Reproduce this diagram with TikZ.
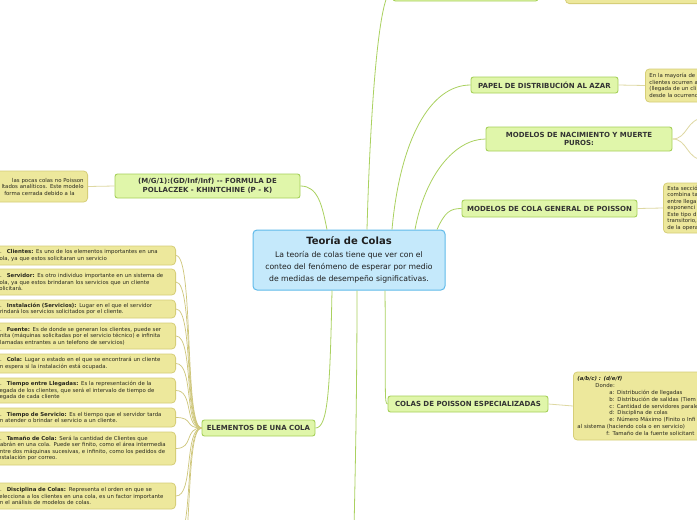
\documentclass[tikz,border=0pt]{standalone}
\usepackage{fontspec}
\setmainfont{DejaVu Sans}
\definecolor{cfill}{RGB}{197,233,251}
\definecolor{cborder}{RGB}{96,186,234}
\definecolor{ctext}{RGB}{30,30,30}
\definecolor{gfill}{RGB}{224,246,170}
\definecolor{gborder}{RGB}{166,208,90}
\definecolor{ttext}{RGB}{51,51,51}
\definecolor{yfill}{RGB}{237,232,156}
\definecolor{yborder}{RGB}{214,206,120}
\definecolor{ntext}{RGB}{40,40,30}
\definecolor{glink}{RGB}{170,209,96}
\definecolor{ylink}{RGB}{222,216,162}
\definecolor{blink}{RGB}{206,198,122}
\tikzset{
 rootbox/.style={draw=cborder, fill=cfill, line width=1pt, rounded corners=4pt, minimum width=192pt, minimum height=60pt, align=center, text=ctext, inner sep=0pt, font=\fontsize{7.7}{12}\selectfont},
 topicbox/.style={draw=gborder, fill=gfill, line width=0.9pt, rounded corners=2.5pt, align=center, text=ttext, inner sep=0pt, font=\bfseries\fontsize{7}{8.8}\selectfont},
 notebox/.style={draw=yborder, fill=yfill, line width=0.8pt, rounded corners=4pt, align=left, text=ntext, inner xsep=4pt, inner ysep=2pt, font=\fontsize{5.4}{6.5}\selectfont},
 mainlink/.style={draw=glink, line width=0.8pt},
 notelink/.style={draw=ylink, line width=0.8pt},
 bundlelink/.style={draw=blink, line width=0.7pt},
}
\begin{document}
\begin{tikzpicture}[x=1pt,y=-1pt]
\useasboundingbox (0,0) rectangle (697,520);
\clip (0,0) rectangle (697,520);
\fill[white] (0,0) rectangle (697,520);

% root
\node[rootbox] (root) at (349,260) {{\bfseries\fontsize{10}{11}\selectfont Teoría de Colas}\\[0.5pt]La teoría de colas tiene que ver con el\\conteo del fenómeno de esperar por medio\\de medidas de desempeño significativas.};

% topics
\node[topicbox, minimum width=145pt, minimum height=22pt] (top) at (465.5,-10) {};
\node[topicbox, minimum width=147pt, minimum height=16pt] (papel) at (544.5,85) {PAPEL DE DISTRIBUCIÓN AL AZAR};
\node[topicbox, minimum width=186pt, minimum height=24pt] (nac) at (579,139) {MODELOS DE NACIMIENTO Y MUERTE\\PUROS:};
\node[topicbox, minimum width=175pt, minimum height=17pt] (gen) at (549.5,208.5) {MODELOS DE COLA GENERAL DE POISSON};
\node[topicbox, minimum width=160pt, minimum height=16pt] (esp) at (468,404) {COLAS DE POISSON ESPECIALIZADAS};
\node[topicbox, minimum width=185pt, minimum height=24pt] (mg1) at (207.5,186) {(M/G/1):(GD/Inf/Inf) -{}- FORMULA DE\\POLLACZEK - KHINTCHINE (P - K)};
\node[topicbox, minimum width=113pt, minimum height=16pt] (elem) at (258.5,428) {ELEMENTOS DE UNA COLA};

% notes of topics
\node[notebox, anchor=south west, text width=150pt, minimum height=30pt] (topnote) at (565,4) {sistemas de colas.};
\node[notebox, anchor=west, text width=70pt, minimum height=33pt] (papelnote) at (645,85.5) {En la mayoría de\\clientes ocurren a\\(llegada de un cli\\desde la ocurrenc};
\node[notebox, anchor=west, text width=60pt, minimum height=50pt] (gennote) at (663,208) {Esta secció\\combina ta\\entre llega\\exponenci\\Este tipo d\\transitorio,\\de la opera};
\node[notebox, anchor=west, text width=150pt, minimum height=68pt, font=\fontsize{5.4}{6.9}\selectfont] (espnote) at (573,406) {\textbf{\itshape (a/b/c) : (d/e/f)}\\
\hspace*{18pt}Donde:\\
\hspace*{32pt}a: Distribución de llegadas\\
\hspace*{32pt}b: Distribución de salidas (Tiem\\
\hspace*{32pt}c: Cantidad de servidores parale\\
\hspace*{32pt}d: Disciplina de colas\\
\hspace*{32pt}e: Número Máximo (Finito o Infi\\
al sistema (haciendo cola o en servicio)\\
\hspace*{29pt}f: Tamaño de la fuente solicitant};
\node[notebox, anchor=east, text width=100pt, minimum height=31pt, align=right] (mg1note) at (88,186.5) {las pocas colas no Poisson\hspace*{7pt}\\ltados analíticos. Este modelo\\forma cerrada debido a la\hspace*{9pt}};

% elements
\node[notebox, anchor=east, text width=175pt, minimum height=19pt] (e1) at (176,255.5) {1.\hspace{5pt}\textbf{Clientes:} Es uno de los elementos importantes en una\\cola, ya que estos solicitaran un servicio};
\node[notebox, anchor=east, text width=175pt, minimum height=26pt] (e2) at (176,282) {2.\hspace{5pt}\textbf{Servidor:} Es otro individuo importante en un sistema de\\cola, ya que estos brindaran los servicios que un cliente\\solicitará.};
\node[notebox, anchor=east, text width=175pt, minimum height=18pt] (e3) at (176,309) {3.\hspace{5pt}\textbf{Instalación (Servicios):} Lugar en el que el servidor\\brindará los servicios solicitados por el cliente.};
\node[notebox, anchor=east, text width=175pt, minimum height=26pt] (e4) at (176,336) {4.\hspace{5pt}\textbf{Fuente:} Es de donde se generan los clientes, puede ser\\finita (máquinas solicitadas por el servicio técnico) e infinita\\(llamadas entrantes a un telefono de servicios)};
\node[notebox, anchor=east, text width=175pt, minimum height=19pt] (e5) at (176,363.5) {5.\hspace{5pt}\textbf{Cola:} Lugar o estado en el que se encontrará un cliente\\en espera si la instalación está ocupada.};
\node[notebox, anchor=east, text width=175pt, minimum height=25pt] (e6) at (176,390.5) {6.\hspace{5pt}\textbf{Tiempo entre Llegadas:} Es la representación de la\\llegada de los clientes, que será el intervalo de tiempo de\\llegada de cada cliente};
\node[notebox, anchor=east, text width=175pt, minimum height=19pt] (e7) at (176,417.5) {7.\hspace{5pt}\textbf{Tiempo de Servicio:} Es el tiempo que el servidor tarda\\en atender o brindar el servicio a un cliente.};
\node[notebox, anchor=east, text width=175pt, minimum height=33pt] (e8) at (176,448.5) {8.\hspace{5pt}\textbf{Tamaño de Cola:} Será la cantidad de Clientes que\\habrán en una cola. Puede ser finito, como el área intermedia\\entre dos máquinas sucesivas, e infinito, como los pedidos de\\instalación por correo.};
\node[notebox, anchor=east, text width=175pt, minimum height=26pt] (e9) at (176,496) {9.\hspace{5pt}\textbf{Disciplina de Colas:} Representa el orden en que se\\selecciona a los clientes en una cola, es un factor importante\\en el análisis de modelos de colas.};
\coordinate (e10) at (176,540);
\coordinate (e11) at (176,575);
\coordinate (down) at (354,530);
\coordinate (nac1) at (705,118);
\coordinate (nac2) at (705,160);

% root links
\draw[mainlink] ([xshift=18pt]root.north) .. controls (370,120) and (378,-10) .. (top.west);
\draw[mainlink] ([xshift=43pt]root.north) .. controls (400,140) and (430,85) .. (papel.west);
\draw[mainlink] ([xshift=66pt]root.north) .. controls (425,175) and (455,139) .. (nac.west);
\draw[mainlink] ([xshift=88pt]root.north) .. controls (445,212) and (450,208.5) .. (gen.west);
\draw[mainlink] ([xshift=-22pt]root.north) .. controls (322,205) and (318,186) .. (mg1.east);
\draw[mainlink] ([xshift=-17pt]root.south) .. controls (330,390) and (328,428) .. (elem.east);
\draw[mainlink] ([xshift=36pt]root.south) .. controls (386,390) and (384,404) .. (esp.west);
\draw[mainlink] ([xshift=8pt]root.south) .. controls (357,400) and (355,480) .. (down);

% topic to note links
\draw[notelink] (top.east) -- (topnote.west);
\draw[notelink] (papel.east) -- (papelnote.west);
\draw[notelink] (gen.east) -- (gennote.west);
\draw[notelink] (esp.east) -- (espnote.west);
\draw[notelink] (mg1.west) -- (mg1note.east);
\draw[notelink] (nac.east) .. controls (688,139) and (686,118) .. (nac1);
\draw[notelink] (nac.east) .. controls (688,139) and (686,160) .. (nac2);

% element bundle
\foreach \e/\yy in {e1/255.5,e2/282,e3/309,e4/336,e5/363.5,e6/390.5,e7/417.5,e8/448.5,e9/496,e10/540,e11/575}{
  \draw[bundlelink] (elem.west) .. controls (184,428) and (194,\yy) .. (\e);
}
\end{tikzpicture}
\end{document}
